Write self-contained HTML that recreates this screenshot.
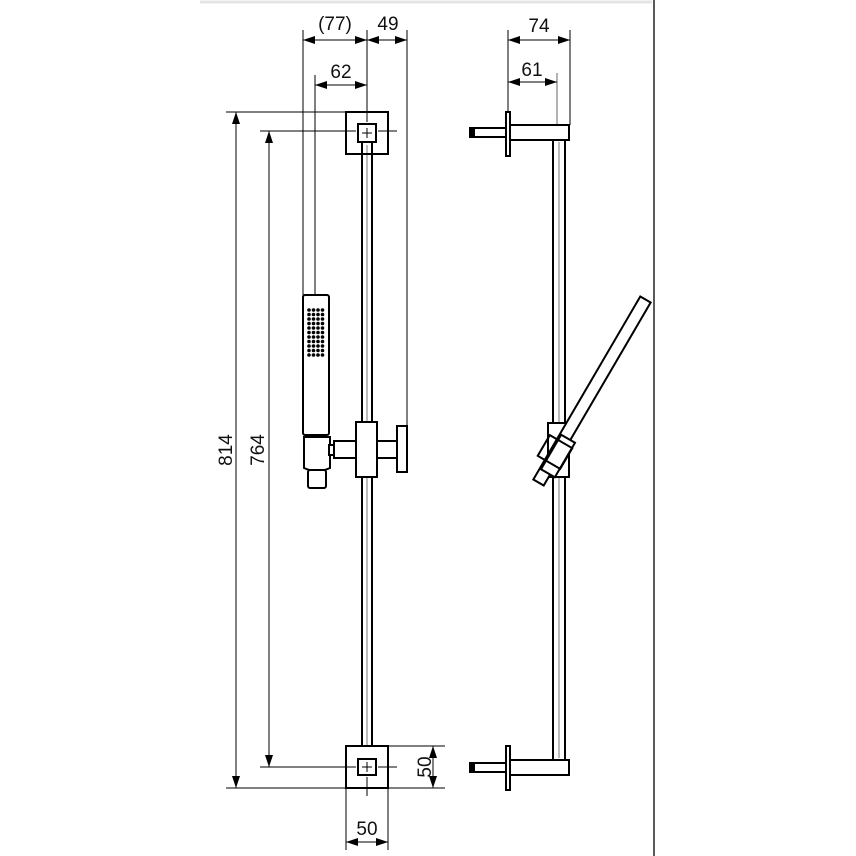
<!DOCTYPE html>
<html><head><meta charset="utf-8"><style>
html,body{margin:0;padding:0;background:#fff;}
svg{display:block;}
text{font-family:"Liberation Sans",Arial,sans-serif;font-size:19px;fill:#111;}
</style></head><body>
<svg width="856" height="856" viewBox="0 0 856 856" xmlns="http://www.w3.org/2000/svg">
<defs>
<marker id="a" viewBox="0 0 12 8" refX="12" refY="4" markerWidth="12" markerHeight="8" orient="auto-start-reverse" markerUnits="userSpaceOnUse"><path d="M0,0 L12,4 L0,8 z" fill="#000"/></marker>
</defs>
<line x1="200" y1="2" x2="652" y2="2" stroke="#e4e4e4" stroke-width="3"/>
<line x1="654" y1="0" x2="654" y2="856" stroke="#222" stroke-width="1.5"/>
<g stroke="#000" fill="none" stroke-width="1">
<line x1="303" y1="30" x2="303" y2="295"/>
<line x1="367" y1="30" x2="367" y2="105"/>
<line x1="407" y1="30" x2="407" y2="426"/>
<line x1="315" y1="75" x2="315" y2="295"/>
<line x1="303" y1="40" x2="367" y2="40" marker-start="url(#a)" marker-end="url(#a)"/>
<line x1="367" y1="40" x2="407" y2="40" marker-start="url(#a)" marker-end="url(#a)"/>
<line x1="315" y1="85" x2="367" y2="85" marker-start="url(#a)" marker-end="url(#a)"/>
<line x1="226" y1="112" x2="346" y2="112"/>
<line x1="226" y1="788" x2="346" y2="788"/>
<line x1="260" y1="131" x2="340" y2="131"/>
<line x1="260" y1="767" x2="340" y2="767"/>
<line x1="236" y1="112" x2="236" y2="788" marker-start="url(#a)" marker-end="url(#a)"/>
<line x1="269" y1="131" x2="269" y2="767" marker-start="url(#a)" marker-end="url(#a)"/>
<line x1="388" y1="746" x2="445" y2="746"/>
<line x1="388" y1="788" x2="445" y2="788"/>
<line x1="433" y1="746" x2="433" y2="788" marker-start="url(#a)" marker-end="url(#a)"/>
<line x1="346" y1="788" x2="346" y2="850"/>
<line x1="388" y1="788" x2="388" y2="850"/>
<line x1="346" y1="842" x2="388" y2="842" marker-start="url(#a)" marker-end="url(#a)"/>
<line x1="508" y1="30" x2="508" y2="112"/>
<line x1="570" y1="30" x2="570" y2="125"/>
<line x1="557" y1="73" x2="557" y2="140" stroke="#666"/>
<line x1="508" y1="40" x2="570" y2="40" marker-start="url(#a)" marker-end="url(#a)"/>
<line x1="508" y1="82" x2="557" y2="82" marker-start="url(#a)" marker-end="url(#a)"/>
</g>
<g stroke="#000" fill="#fff" stroke-width="2">
<rect x="362" y="142" width="10" height="604"/>
<line x1="367" y1="145" x2="367" y2="745" stroke-width="1" stroke="#777"/>
<rect x="346" y="112" width="42" height="42" fill="none"/>
<rect x="358" y="124" width="18" height="18"/>
<rect x="346" y="746" width="42" height="42" fill="none"/>
<rect x="358" y="759" width="18" height="16"/>
</g>
<g stroke="#000" stroke-width="1" fill="none">
<line x1="340" y1="131" x2="356" y2="131"/><line x1="378" y1="131" x2="397" y2="131"/>
<line x1="340" y1="767" x2="356" y2="767"/><line x1="378" y1="767" x2="397" y2="767"/>
<line x1="367" y1="105" x2="367" y2="122"/>
<line x1="367" y1="777" x2="367" y2="796"/>
<line x1="362" y1="133" x2="372" y2="133"/><line x1="367" y1="128" x2="367" y2="138"/>
<line x1="362" y1="767" x2="372" y2="767"/><line x1="367" y1="762" x2="367" y2="772"/>
</g>
<g stroke="#000" fill="#fff" stroke-width="2">
<rect x="334" y="441" width="63" height="17"/>
<rect x="397" y="426" width="10" height="46"/>
<rect x="356" y="422" width="21" height="55"/>
<rect x="303" y="295" width="26" height="140" rx="2"/>
<path d="M304,437 L330,437 L330,468 Q317,474 304,468 Z"/>
<rect x="329" y="445" width="5" height="10"/>
<rect x="308" y="470" width="18" height="18" rx="2"/>
</g>
<g fill="#000">
<g id="dots">
<circle cx="309" cy="310" r="1.8"/><circle cx="313.5" cy="310" r="1.8"/><circle cx="318" cy="310" r="1.8"/><circle cx="322.5" cy="310" r="1.8"/>
</g>
<use href="#dots" y="4.5"/><use href="#dots" y="9"/><use href="#dots" y="13.5"/><use href="#dots" y="18"/><use href="#dots" y="22.5"/><use href="#dots" y="27"/><use href="#dots" y="31.5"/><use href="#dots" y="36"/><use href="#dots" y="40.5"/><use href="#dots" y="45"/>
</g>
<g stroke="#000" fill="#fff" stroke-width="2">
<rect x="553" y="140" width="12" height="620"/>
<line x1="559" y1="142" x2="559" y2="758" stroke-width="1" stroke="#777"/>
<rect x="470" y="128" width="38" height="9"/>
<rect x="470" y="128" width="4" height="9" fill="#000"/>
<rect x="510" y="125" width="59" height="15"/>
<rect x="506" y="112" width="4" height="44"/>
<rect x="470" y="763" width="38" height="9"/>
<rect x="470" y="763" width="4" height="9" fill="#000"/>
<rect x="510" y="760" width="59" height="15"/>
<rect x="506" y="746" width="4" height="44"/>
<rect x="548" y="423" width="21" height="54"/>
<g transform="translate(592,391) rotate(30.3)">
<rect x="-6" y="-106" width="12" height="212"/>
</g>
<g transform="translate(558,456) rotate(30.3)">
<rect x="-8" y="-20" width="16" height="40"/>
</g>
<g transform="translate(555,452) rotate(30.3)">
<rect x="-13" y="-12" width="26" height="24" fill="none"/>
</g>
</g>
<g font-size="19">
<text x="335" y="30" text-anchor="middle">(77)</text>
<text x="388" y="30" text-anchor="middle">49</text>
<text x="341" y="78" text-anchor="middle">62</text>
<text x="539" y="32" text-anchor="middle">74</text>
<text x="532" y="76" text-anchor="middle">61</text>
<text x="367" y="835" text-anchor="middle">50</text>
<text transform="translate(232,450) rotate(-90)" text-anchor="middle">814</text>
<text transform="translate(264,450) rotate(-90)" text-anchor="middle">764</text>
<text transform="translate(431,767) rotate(-90)" text-anchor="middle">50</text>
</g>
</svg>
</body></html>
